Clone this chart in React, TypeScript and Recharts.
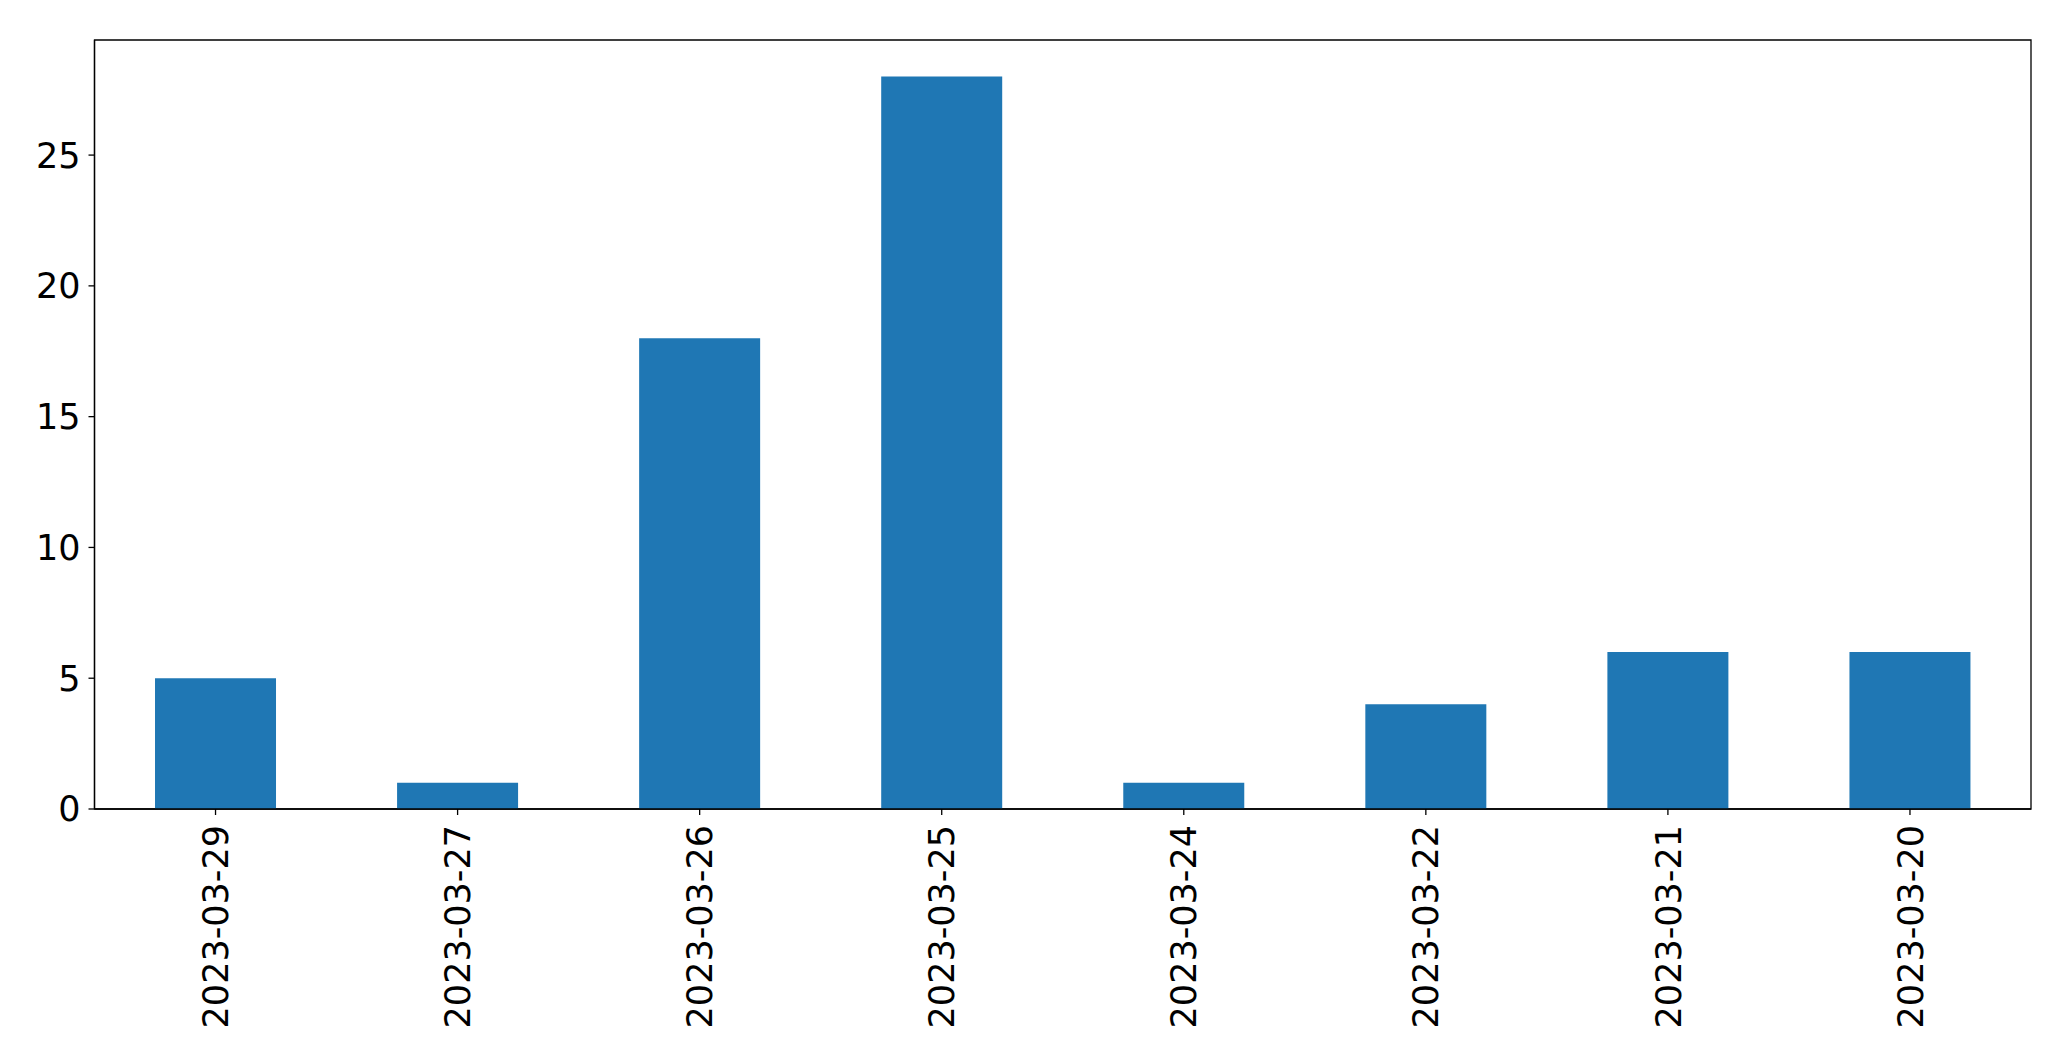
import { Bar, BarChart, ReferenceArea, XAxis, YAxis } from "recharts";

const DATES = [
  "2023-03-29",
  "2023-03-27",
  "2023-03-26",
  "2023-03-25",
  "2023-03-24",
  "2023-03-22",
  "2023-03-21",
  "2023-03-20",
];
const COUNTS = [5, 1, 18, 28, 1, 4, 6, 6];
const Y_TICKS = [0, 5, 10, 15, 20, 25];
const Y_MAX = 29.4;

const FONT = "DejaVu Sans, sans-serif";
const LINE = { stroke: "#000", strokeWidth: 1.3 };

const data = DATES.map((d, i) => ({ date: d, count: COUNTS[i] }));

function DateTick({ x, y, payload }: { x: number; y: number; payload: { value: string } }) {
  return (
    <g transform={`translate(${x},${y})`}>
      <text
        transform="rotate(-90)"
        textAnchor="end"
        dy="0.36em"
        fill="#000"
        fontSize={35}
        fontFamily={FONT}
      >
        {payload.value}
      </text>
    </g>
  );
}

export default function App() {
  return (
    <div style={{ position: "absolute", left: 0, top: 0, width: 2071, height: 1061, background: "#fff" }}>
      <BarChart
        width={2071}
        height={1061}
        data={data}
        margin={{ top: 40, right: 40, bottom: 0, left: 0 }}
        barCategoryGap="25%"
      >
        <XAxis
          dataKey="date"
          height={252}
          interval={0}
          tick={DateTick}
          tickSize={6}
          tickMargin={10}
          axisLine={LINE}
          tickLine={LINE}
        />
        <YAxis
          width={94.5}
          domain={[0, Y_MAX]}
          ticks={Y_TICKS}
          tickSize={6}
          tickMargin={8}
          tick={{ fill: "#000", fontSize: 35, fontFamily: FONT }}
          axisLine={LINE}
          tickLine={LINE}
        />
        <Bar dataKey="count" fill="#1f77b4" isAnimationActive={false} />
        {/* frame around the plot area */}
        <ReferenceArea
          x1={DATES[0]}
          x2={DATES[DATES.length - 1]}
          y1={0}
          y2={Y_MAX}
          fill="none"
          fillOpacity={0}
          stroke="#000"
          strokeWidth={1.3}
          strokeOpacity={1}
          ifOverflow="visible"
        />
      </BarChart>
    </div>
  );
}
